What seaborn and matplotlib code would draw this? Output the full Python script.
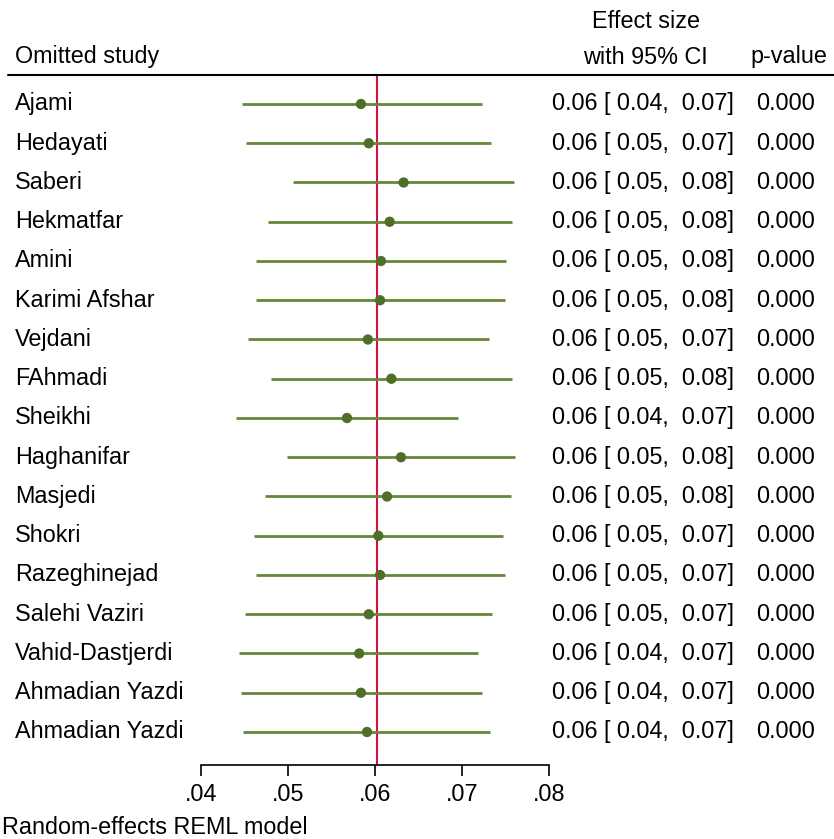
import matplotlib
matplotlib.use("Agg")
import matplotlib.pyplot as plt
from matplotlib.lines import Line2D
import matplotlib.transforms as mtransforms
import seaborn as sns
import pandas as pd

studies = ["Ajami", "Hedayati", "Saberi", "Hekmatfar", "Amini", "Karimi Afshar",
           "Vejdani", "FAhmadi", "Sheikhi", "Haghanifar", "Masjedi", "Shokri",
           "Razeghinejad", "Salehi Vaziri", "Vahid-Dastjerdi", "Ahmadian Yazdi",
           "Ahmadian Yazdi"]
effect = [0.0584, 0.0593, 0.0633, 0.0617, 0.0607, 0.0606, 0.0592, 0.0619, 0.0568,
          0.0630, 0.0614, 0.0604, 0.0606, 0.0593, 0.0582, 0.0584, 0.0591]
ci_low = [0.0447, 0.0452, 0.0506, 0.0477, 0.0464, 0.0464, 0.0454, 0.0481, 0.0441,
          0.0499, 0.0474, 0.0461, 0.0463, 0.0451, 0.0444, 0.0446, 0.0449]
ci_high = [0.0723, 0.0733, 0.0760, 0.0757, 0.0751, 0.0749, 0.0731, 0.0758, 0.0695,
           0.0761, 0.0756, 0.0747, 0.0749, 0.0735, 0.0719, 0.0723, 0.0732]
ci_text = ["0.06 [ 0.04,  0.07]", "0.06 [ 0.05,  0.07]", "0.06 [ 0.05,  0.08]",
           "0.06 [ 0.05,  0.08]", "0.06 [ 0.05,  0.08]", "0.06 [ 0.05,  0.08]",
           "0.06 [ 0.05,  0.07]", "0.06 [ 0.05,  0.08]", "0.06 [ 0.04,  0.07]",
           "0.06 [ 0.05,  0.08]", "0.06 [ 0.05,  0.08]", "0.06 [ 0.05,  0.07]",
           "0.06 [ 0.05,  0.07]", "0.06 [ 0.05,  0.07]", "0.06 [ 0.04,  0.07]",
           "0.06 [ 0.04,  0.07]", "0.06 [ 0.04,  0.07]"]
p_values = ["0.000"] * 17
overall = 0.0602
xticks = [0.04, 0.05, 0.06, 0.07, 0.08]
xticklabels = [".04", ".05", ".06", ".07", ".08"]

sns.set_style("white")
plt.rcParams["font.family"] = ["Liberation Sans", "DejaVu Sans"]
plt.rcParams["text.color"] = "black"
plt.rcParams["xtick.color"] = "black"
plt.rcParams["xtick.labelcolor"] = "black"
FS = 16.8

W, H = 834, 839
fig = plt.figure(figsize=(W / 100, H / 100), dpi=100)

ax_left, ax_right = 200.7, 549.0
ax_top, ax_bot = 75.0, 765.0
ax = fig.add_axes([ax_left / W, 1 - ax_bot / H, (ax_right - ax_left) / W, (ax_bot - ax_top) / H])

row0, step = 104.0, 39.25
ylim_top = (ax_top - row0) / step
ylim_bot = (ax_bot - row0) / step

df = pd.DataFrame({"study": studies, "effect": effect, "lo": ci_low, "hi": ci_high,
                   "pos": list(range(len(studies)))})

ax.axvline(overall, color="#d3123f", lw=1.5, zorder=1)
ax.hlines(df["pos"], df["lo"], df["hi"], color="#66873a", lw=2, zorder=2)
sns.scatterplot(data=df, x="effect", y="pos", ax=ax, color="#4f6e28", s=55,
                edgecolor="none", zorder=3, legend=False)

ax.set_xlim(0.04, 0.08)
ax.set_ylim(ylim_bot, ylim_top)
ax.set_yticks([])
ax.set_xticks(xticks)
ax.set_xticklabels(xticklabels, fontsize=FS)
ax.set_xlabel("")
ax.set_ylabel("")
for s in ["top", "right", "left"]:
    ax.spines[s].set_visible(False)
ax.spines["bottom"].set_color("black")
ax.spines["bottom"].set_linewidth(1.2)
ax.tick_params(axis="x", bottom=True, direction="out", length=8, width=1.2,
               color="black", labelcolor="black", pad=5)
ax.patch.set_alpha(0)

trans = mtransforms.blended_transform_factory(fig.transFigure, ax.transData)
for i, row in df.iterrows():
    ax.text(15 / W, row["pos"], row["study"], transform=trans, ha="left", va="center", fontsize=FS)
    ax.text(734 / W, row["pos"], ci_text[i], transform=trans, ha="right", va="center", fontsize=FS)
    ax.text(815 / W, row["pos"], p_values[i], transform=trans, ha="right", va="center", fontsize=FS)

fig.text(15 / W, 1 - 57 / H, "Omitted study", ha="left", va="center", fontsize=FS)
fig.text(646 / W, 1 - 22 / H, "Effect size", ha="center", va="center", fontsize=FS)
fig.text(708 / W, 1 - 57 / H, "with 95% CI", ha="right", va="center", fontsize=FS)
fig.text(827 / W, 1 - 57 / H, "p-value", ha="right", va="center", fontsize=FS)
fig.add_artist(Line2D([8 / W, 1.0], [1 - 75 / H, 1 - 75 / H], color="black", lw=1.5,
                      transform=fig.transFigure))
fig.text(2 / W, 1 - 828 / H, "Random-effects REML model", ha="left", va="center", fontsize=FS)

fig.savefig("out.png", dpi=100)
